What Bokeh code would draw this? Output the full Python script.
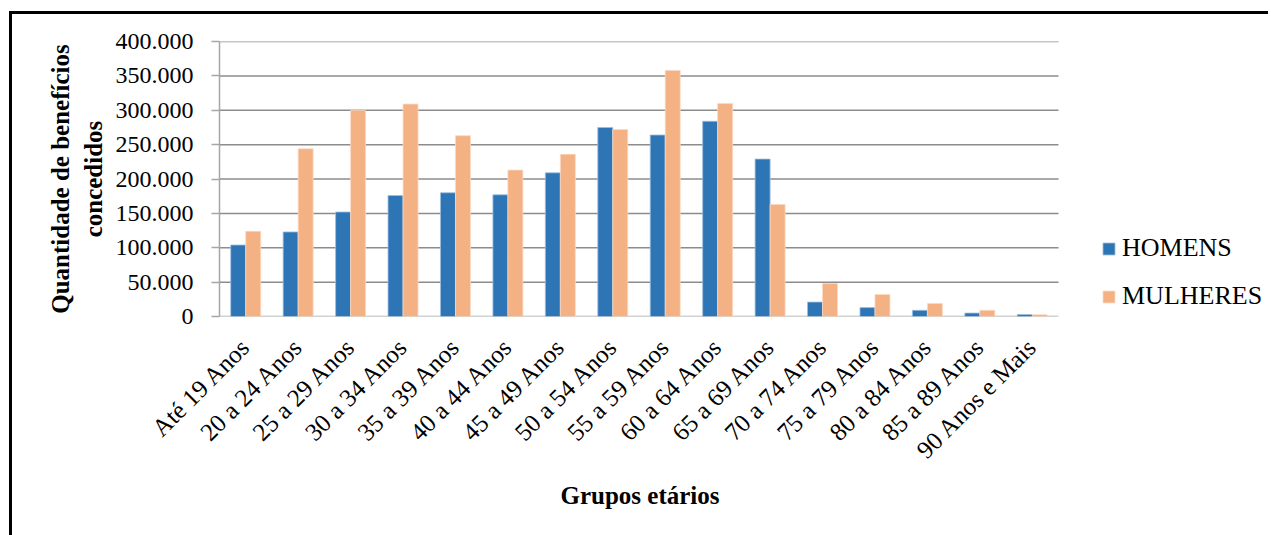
import math

from bokeh.plotting import figure
from bokeh.models import (ColumnDataSource, Range1d, FixedTicker, Title,
                          Legend, LegendItem, InlineStyleSheet)
from bokeh.embed import file_html
from bokeh.resources import INLINE

# Benefícios concedidos por grupo etário e sexo
faixas = ["Até 19 Anos", "20 a 24 Anos", "25 a 29 Anos", "30 a 34 Anos",
          "35 a 39 Anos", "40 a 44 Anos", "45 a 49 Anos", "50 a 54 Anos",
          "55 a 59 Anos", "60 a 64 Anos", "65 a 69 Anos", "70 a 74 Anos",
          "75 a 79 Anos", "80 a 84 Anos", "85 a 89 Anos", "90 Anos e Mais"]
homens = [104000, 123000, 152000, 176000, 180000, 177000, 209000, 275000,
          264000, 284000, 229000, 21000, 13000, 9000, 5000, 2800]
mulheres = [124000, 244000, 300000, 309000, 263000, 213000, 236000, 272000,
            358000, 310000, 163000, 48000, 32000, 19000, 9000, 2600]
y_ticks = [0, 50000, 100000, 150000, 200000, 250000, 300000, 350000, 400000]
y_tick_labels = ["0", "50.000", "100.000", "150.000", "200.000", "250.000",
                 "300.000", "350.000", "400.000"]

AZUL = "#2E75B6"
LARANJA = "#F4B183"
FONTE = "Liberation Serif"
GRADE = "#8c8c8c"

n = len(faixas)
centros = [i + 0.5 for i in range(n)]
desloc = 0.143
largura = 0.286

src = ColumnDataSource(dict(
    x_h=[c - desloc for c in centros], x_m=[c + desloc for c in centros],
    homens=homens, mulheres=mulheres))

# a área útil do gráfico continua à direita das categorias para abrigar a legenda
x_fim = n * 1043 / 839

p = figure(width=1259, height=526,
           x_range=Range1d(0, x_fim), y_range=Range1d(0, 400000),
           output_backend="svg", toolbar_location=None,
           min_border_left=207, min_border_top=27,
           min_border_right=9, min_border_bottom=224,
           margin=(11, 0, 0, 9),
           stylesheets=[InlineStyleSheet(
               css=":host { border-left: 3px solid #000; border-top: 3px solid #000; }")])
p.outline_line_color = None
p.background_fill_color = "white"
p.border_fill_color = "white"
p.xgrid.grid_line_color = None
p.ygrid.grid_line_color = None

# linhas de grade horizontais limitadas às categorias
grade_y = y_ticks[1:]
p.segment(x0=[0] * len(grade_y), x1=[n] * len(grade_y), y0=grade_y, y1=grade_y,
          line_color=GRADE, line_width=1.5)
# linha de base do eixo x
p.segment(x0=[0], x1=[n], y0=[0], y1=[0], line_color="#a6a6a6", line_width=1.5)

r_h = p.vbar(x="x_h", top="homens", width=largura, source=src,
             fill_color=AZUL, line_color="#9dbfe0", line_width=0.8)
r_m = p.vbar(x="x_m", top="mulheres", width=largura, source=src,
             fill_color=LARANJA, line_color="#fbd9c4", line_width=0.8)

p.yaxis.ticker = FixedTicker(ticks=y_ticks)
p.yaxis.major_label_overrides = dict(zip(y_ticks, y_tick_labels))
p.yaxis.axis_line_color = "#a6a6a6"
p.yaxis.axis_line_width = 1.5
p.yaxis.major_tick_line_color = "#a6a6a6"
p.yaxis.major_tick_line_width = 1.5
p.yaxis.major_tick_out = 8
p.yaxis.major_tick_in = 0
p.yaxis.minor_tick_line_color = None
p.yaxis.major_label_standoff = 18
p.yaxis.major_label_text_font = FONTE
p.yaxis.major_label_text_font_size = "24px"
p.yaxis.major_label_text_color = "#000000"
p.yaxis.axis_label = "Quantidade de benefícios\nconcedidos"
p.yaxis.axis_label_text_font = FONTE
p.yaxis.axis_label_text_font_size = "25px"
p.yaxis.axis_label_text_font_style = "bold"
p.yaxis.axis_label_text_color = "#000000"
p.yaxis.axis_label_standoff = 6

p.xaxis.ticker = FixedTicker(ticks=centros)
p.xaxis.major_label_overrides = dict(zip(centros, faixas))
p.xaxis.axis_line_color = None
p.xaxis.major_tick_line_color = None
p.xaxis.minor_tick_line_color = None
p.xaxis.major_label_orientation = math.pi / 4
p.xaxis.major_label_standoff = 20
p.xaxis.major_label_text_font = FONTE
p.xaxis.major_label_text_font_size = "25px"
p.xaxis.major_label_text_color = "#000000"

# título do eixo x, sob as categorias
titulo_x = Title(text="Grupos etários", align="left", offset=341,
                 text_font=FONTE, text_font_size="25px", text_font_style="bold",
                 text_color="#000000", standoff=6)
p.add_layout(titulo_x, "below")

legenda = Legend(items=[LegendItem(label="HOMENS", renderers=[r_h]),
                        LegendItem(label="MULHERES", renderers=[r_m])],
                 location=(882, 5), padding=0, margin=0, spacing=18,
                 glyph_width=15, glyph_height=15, label_standoff=6,
                 label_text_font=FONTE, label_text_font_size="26px",
                 label_text_color="#000000",
                 border_line_color=None, background_fill_alpha=0)
p.add_layout(legenda, "center")

open("out.html", "w").write(file_html(p, INLINE))
